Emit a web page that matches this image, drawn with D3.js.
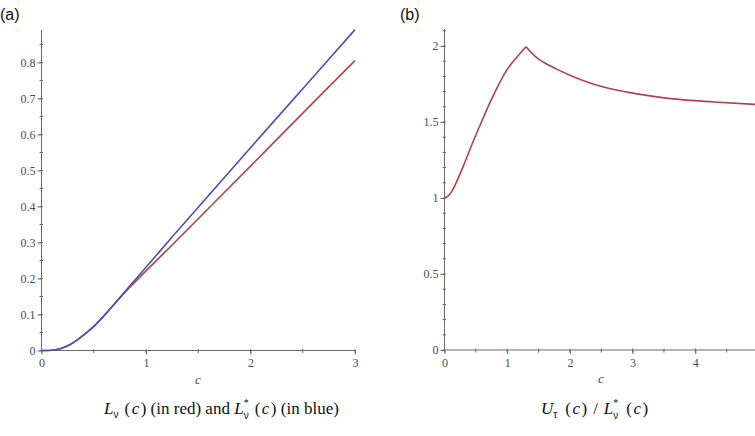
<!DOCTYPE html>
<html lang="en">
<head>
  <meta charset="UTF-8" />
  <title>L_nu and U_tau / L*_nu</title>
  <style>
    body { margin: 0; background: #fff; }
    svg { display: block; }
    .axis path, .axis line { stroke: #6a6a6a; }
    .axis .tick text { font-family: "Liberation Serif", "Times New Roman", serif; font-size: 12px; fill: #454c5c; }
    .cap { font-family: "Liberation Serif", serif; font-size: 17px; fill: #111; }
    .panel { font-family: "Liberation Sans", Arial, sans-serif; font-size: 16px; fill: #111; }
  </style>
</head>
<body>
  <div id="chart"></div>
  <script src="https://cdn.jsdelivr.net/npm/d3@7"></script>
  <script>
    // panel (a): L_nu(c) red, L*_nu(c) blue
    const cA = [0, 0.1, 0.15, 0.2, 0.27, 0.35, 0.42, 0.49, 0.6, 0.714, 0.85, 1.0, 1.25, 1.5, 2.0, 2.5, 3.0];
    const lStar = [0, 0.0008, 0.003, 0.007, 0.016, 0.031, 0.047, 0.064, 0.097, 0.135, 0.181, 0.231, 0.315, 0.398, 0.563, 0.727, 0.891];
    const lNu = [0, 0.0008, 0.003, 0.007, 0.016, 0.031, 0.047, 0.064, 0.097, 0.134, 0.177, 0.221, 0.293, 0.366, 0.512, 0.659, 0.805];
    const xTicksA = [0, 1, 2, 3];
    const yTicksA = [0, 0.1, 0.2, 0.3, 0.4, 0.5, 0.6, 0.7, 0.8];

    // panel (b): U_tau(c) / L*_nu(c)  (rising part, then falling part from the peak)
    const cUp = [0, 0.05, 0.1, 0.14, 0.2, 0.3, 0.46, 0.6, 0.73, 0.85, 0.99, 1.15, 1.3];
    const ratioUp = [1.0, 1.01, 1.034, 1.062, 1.113, 1.21, 1.375, 1.51, 1.632, 1.735, 1.84, 1.925, 1.995];
    const cDown = [1.3, 1.45, 1.6, 1.79, 2.0, 2.32, 2.48, 3.0, 3.65, 4.3, 5.0];
    const ratioDown = [1.995, 1.93, 1.888, 1.848, 1.808, 1.757, 1.737, 1.69, 1.652, 1.632, 1.615];
    const xTicksB = [0, 1, 2, 3, 4, 5];
    const yTicksB = [0, 0.5, 1, 1.5, 2];

    const W = 755, H = 436;
    const red = "#b3404f", blue = "#4c4fb5";
    const tickColor = "#454c5c";

    const svg = d3.select("#chart").append("svg")
      .attr("width", W).attr("height", H);

    function panel(opt) {
      const x = d3.scaleLinear().domain(opt.xDom).range(opt.xRange);
      const y = d3.scaleLinear().domain([0, opt.yMax]).range([opt.y0, opt.yTop]);
      const g = svg.append("g");

      // minor ticks
      const xMinor = d3.range(opt.xDom[0], opt.xDom[1] + 1e-9, opt.xMinor);
      const yMinor = d3.range(0, opt.yMax, opt.yMinor);
      g.append("g").selectAll("line").data(xMinor).join("line")
        .attr("x1", d => x(d)).attr("x2", d => x(d))
        .attr("y1", opt.y0 - 1.5).attr("y2", opt.y0 + 2.5)
        .attr("stroke", "#6a6a6a");
      g.append("g").selectAll("line").data(yMinor).join("line")
        .attr("y1", d => y(d)).attr("y2", d => y(d))
        .attr("x1", opt.xRange[0] - 2).attr("x2", opt.xRange[0] + 1.5)
        .attr("stroke", "#6a6a6a");

      const xAxis = d3.axisBottom(x).tickValues(opt.xTicks).tickSize(4).tickPadding(4)
        .tickFormat(d3.format("d"));
      g.append("g").attr("class", "axis")
        .attr("transform", `translate(0,${opt.y0})`).call(xAxis)
        .call(a => a.select(".domain").attr("d", `M${opt.xRange[0]},0H${opt.xEnd}`));

      const yAxis = d3.axisLeft(y).tickValues(opt.yTicks).tickSize(4).tickPadding(2)
        .tickFormat(d => d3.format("")(d));
      g.append("g").attr("class", "axis")
        .attr("transform", `translate(${opt.xRange[0]},0)`).call(yAxis)
        .call(a => a.select(".domain").attr("d", `M0,${opt.y0}V${opt.yTop}`));

      g.append("text").attr("x", opt.cx).attr("y", opt.y0 + 33)
        .attr("text-anchor", "middle")
        .style("font-family", "'Liberation Serif', serif").style("font-style", "italic")
        .style("font-size", "13px").style("fill", tickColor).text("c");

      const line = d3.line().x(d => x(d[0])).y(d => y(d[1])).curve(d3.curveMonotoneX);
      opt.series.forEach(s => {
        g.append("path").datum(d3.zip(s.xs, s.ys))
          .attr("d", line).attr("fill", "none")
          .attr("stroke", s.color).attr("stroke-width", 1.6);
      });
    }

    panel({
      xDom: [0, 3], xRange: [41.5, 355], xEnd: 355,
      yMax: 0.89, y0: 350.5, yTop: 30,
      xTicks: xTicksA, yTicks: yTicksA, xMinor: 0.5, yMinor: 0.05, cx: 198,
      series: [
        { xs: cA, ys: lNu, color: red },
        { xs: cA, ys: lStar, color: blue }
      ]
    });

    panel({
      xDom: [0, 5], xRange: [444.5, 758], xEnd: 755,
      yMax: 2.112, y0: 350, yTop: 29,
      xTicks: xTicksB, yTicks: yTicksB, xMinor: 0.5, yMinor: 0.1, cx: 601,
      series: [
        { xs: cUp, ys: ratioUp, color: red },
        { xs: cDown, ys: ratioDown, color: red }
      ]
    });

    // panel letters
    svg.append("text").attr("class", "panel").attr("x", 0).attr("y", 20).text("(a)");
    svg.append("text").attr("class", "panel").attr("x", 400).attr("y", 20).text("(b)");

    // captions: symbol with subscript (and optional superscript), then (c)
    function sym(t, base, sub, sup, gap) {
      t.append("tspan").style("font-style", "italic").text(base);
      if (sup) {
        t.append("tspan").attr("dy", -8).style("font-size", "10px").text(sup);
        t.append("tspan").attr("dx", -5).attr("dy", 13)
          .style("font-family", "Liberation Sans, sans-serif").style("font-size", "10px").text(sub);
        t.append("tspan").attr("dx", gap).attr("dy", -5).text("(");
      } else {
        t.append("tspan").attr("dy", 4)
          .style("font-family", "Liberation Sans, sans-serif").style("font-size", "10px").text(sub);
        t.append("tspan").attr("dx", gap).attr("dy", -4).text("(");
      }
      t.append("tspan").attr("dx", 1.5).style("font-style", "italic").text("c");
      t.append("tspan").attr("dx", 1.5).text(")");
    }

    const capA = svg.append("text").attr("class", "cap").attr("x", 104).attr("y", 414);
    sym(capA, "L", "\u03bd", null, 6);
    capA.append("tspan").text(" (in red) and ");
    sym(capA, "L", "\u03bd", "*", 6);
    capA.append("tspan").text(" (in blue)");

    const capB = svg.append("text").attr("class", "cap").attr("x", 541).attr("y", 414);
    sym(capB, "U", "\u03c4", null, 8);
    capB.append("tspan").attr("dx", 6).text("/");
    sym(capB, "L", "\u03bd", "*", 8);
    capB.select("tspan:nth-last-child(6)").attr("dx", 6);
  </script>
</body>
</html>
